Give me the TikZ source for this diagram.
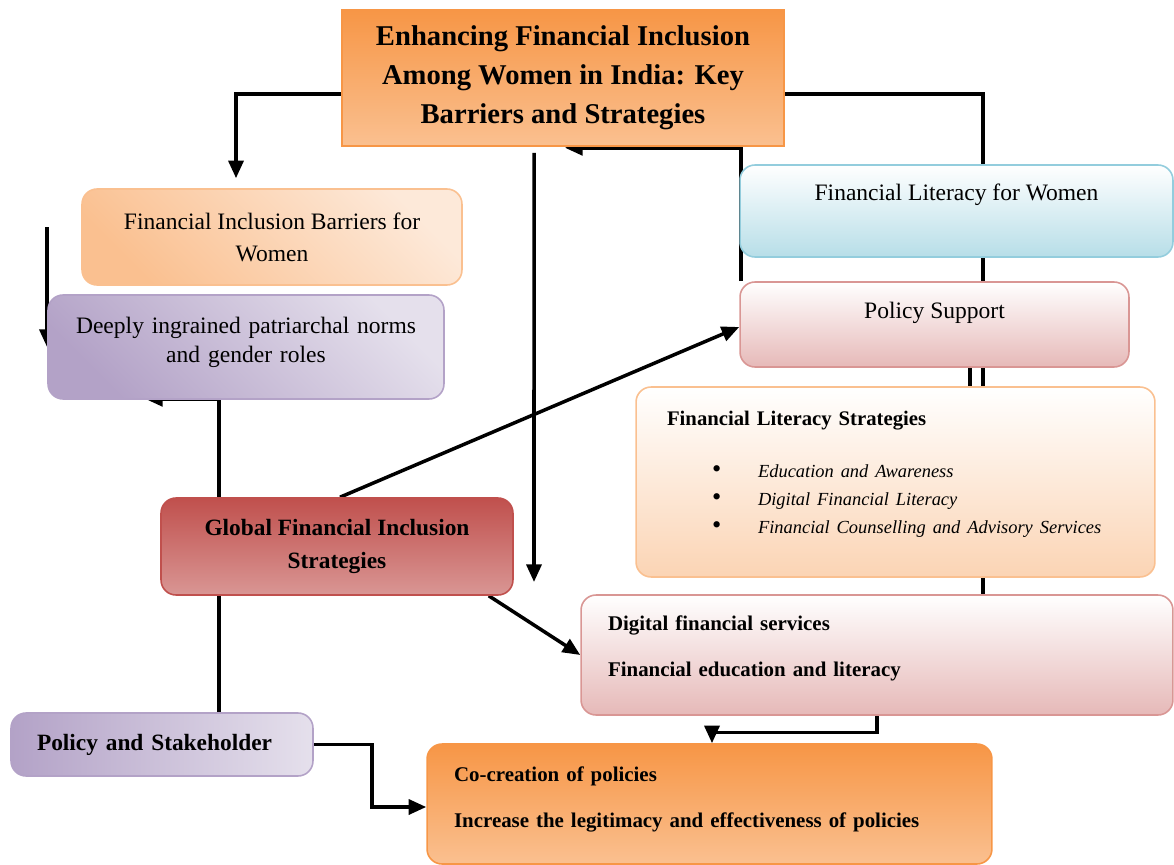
\documentclass[tikz,border=0pt]{standalone}
\usepackage{fontspec}
\setmainfont{Liberation Serif}
\usetikzlibrary{arrows.meta, positioning, backgrounds}

\definecolor{orangeDeep}{HTML}{F79646}
\definecolor{orangeSoft}{HTML}{FAC090}
\definecolor{peachPale}{HTML}{FDE9D9}
\definecolor{peachMid}{HTML}{FBD4B4}
\definecolor{purpleDeep}{HTML}{B3A2C7}
\definecolor{purplePale}{HTML}{E5E0EC}
\definecolor{redDeep}{HTML}{C0504D}
\definecolor{redSoft}{HTML}{D99694}
\definecolor{pinkSoft}{HTML}{E6B9B8}
\definecolor{blueSoft}{HTML}{B7DEE8}
\definecolor{blueLine}{HTML}{93CDDD}

% one bullet line of the strategy list
\newcommand{\litem}[1]{\hspace*{0.9cm}\makebox[0.92cm][l]{\fontsize{15}{15.9}\selectfont\textbullet}{\fontsize{10.5}{15.9}\selectfont\itshape #1}}

\begin{document}
\begin{tikzpicture}[
    x=0.02cm, y=-0.02cm,
    box/.style={
      draw,
      rectangle,
      rounded corners=0.3cm,
      line width=0.9pt,
      align=center
    },
    plain/.style={font=\fontsize{13.4}{18.1}\selectfont},
    heavy/.style={font=\fontsize{13.3}{18.7}\selectfont\bfseries},
    listing/.style={
      align=left,
      inner ysep=0pt,
      font=\fontsize{11.9}{26.6}\selectfont\bfseries
    },
    arrow/.style={-{Triangle[length=10pt, width=8.5pt]}, line width=2pt},
    link/.style={line width=2pt}
  ]

  \useasboundingbox (0,0) rectangle (1174,865);

  % Headline
  \node[box, sharp corners, draw=orangeDeep, top color=orangeDeep, bottom color=orangeSoft,
        minimum width=8.84cm, minimum height=2.72cm,
        font=\fontsize{16.3}{22.1}\selectfont\bfseries] (title) at (563,78)
    {Enhancing Financial Inclusion\\Among Women in India: Key\\Barriers and Strategies};

  % Left column
  \node[box, plain, draw=orangeSoft, left color=orangeSoft, right color=peachPale, shading angle=135,
        minimum width=7.6cm, minimum height=1.92cm] (barriers) at (272,237)
    {Financial Inclusion Barriers for\\Women};

  \node[box, draw=purpleDeep, left color=purpleDeep, right color=purplePale, shading angle=135,
        minimum width=7.92cm, text width=7.4cm, inner ysep=0pt, text height=0.76cm, text depth=1.32cm,
        font=\fontsize{13.4}{16.6}\selectfont] (norms) at (246,347)
    {Deeply ingrained patriarchal norms\\and gender roles};

  \node[box, heavy, draw=redDeep, top color=redDeep, bottom color=redSoft,
        minimum width=7.04cm, minimum height=1.94cm] (global) at (337,546.5)
    {Global Financial Inclusion\\Strategies};

  \node[box, heavy, draw=purpleDeep, left color=purpleDeep, right color=purplePale,
        minimum height=1.26cm, text width=5cm, inner xsep=0.52cm, align=left] (stake) at (162,744.5)
    {Policy and Stakeholder};

  % Right column
  \node[box, plain, draw=blueLine, top color=white, bottom color=blueSoft,
        minimum width=8.66cm, inner ysep=0pt, text height=0.7cm, text depth=1.14cm] (literacy) at (956.5,211)
    {Financial Literacy for Women};

  \node[box, plain, draw=redSoft, top color=white, bottom color=pinkSoft,
        minimum width=7.78cm, inner ysep=0pt, text height=0.72cm, text depth=0.98cm] (support) at (934.5,324.5)
    {Policy Support};

  \node[box, listing, draw=orangeSoft, top color=white, bottom color=peachMid,
        text width=9.14cm, inner xsep=0.62cm, text height=0.76cm, text depth=3.04cm,
        font=\fontsize{11.8}{15.9}\selectfont] (strategies) at (895.5,482)
    {\textbf{Financial Literacy Strategies}\\[14.1pt]
     \litem{Education and Awareness}\\
     \litem{Digital Financial Literacy}\\
     \litem{Financial Counselling and Advisory Services}};

  \node[box, listing, draw=redSoft, top color=white, bottom color=pinkSoft,
        text width=10.76cm, inner xsep=0.54cm, text height=0.7cm, text depth=1.7cm] (digital) at (877,655)
    {Digital financial services\\Financial education and literacy};

  \node[box, listing, draw=orangeDeep, top color=orangeDeep, bottom color=orangeSoft,
        text width=10.22cm, inner xsep=0.54cm, text height=0.74cm, text depth=1.66cm] (policies) at (709.5,804)
    {Co-creation of policies\\Increase the legitimacy and effectiveness of policies};

  % Loose ends
  \coordinate (edge) at (47,227);
  \coordinate (drop) at (534,582);

  % Connections
  \begin{scope}[on background layer]
    \draw[arrow] ([yshift=-0.32cm]title.west) -| ([xshift=-0.72cm, yshift=0.2cm]barriers.north);
    \draw[link] ([yshift=-0.32cm]title.east) -| ([xshift=2.12cm]digital.north);
    \draw[link] ([xshift=0.71cm]support.south) -- ([xshift=0.71cm]support.south |- strategies.north);
    \draw[arrow] ([xshift=0.04cm]support.north west) |- ([xshift=0.04cm, yshift=-0.02cm]title.south);
    \draw[arrow] ([xshift=-0.58cm, yshift=-0.12cm]title.south) -- (drop);
    \draw[arrow] (edge) -- (edge |- norms.west);
    \draw[arrow] ([xshift=1.14cm]stake.north) |- ([xshift=-2.02cm, yshift=0.02cm]norms.south);
    \draw[arrow] ([xshift=0.06cm]global.north) -- ([yshift=-0.05cm]support.west);
    \draw[arrow] ([xshift=-0.5cm]global.south east) -- (digital.west);
    \draw[arrow] (stake.east) -- ++(1.16cm,0) |- ([yshift=-0.06cm]policies.west);
    \draw[arrow] (digital.south) -- ++(0,-0.33cm) -| ([xshift=0.05cm]policies.north);
  \end{scope}

\end{tikzpicture}
\end{document}
